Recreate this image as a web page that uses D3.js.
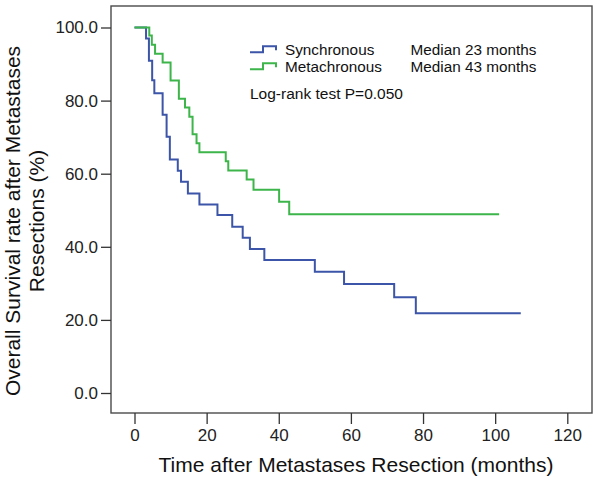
<!DOCTYPE html>
<html><head><meta charset="utf-8">
<script src="https://cdn.jsdelivr.net/npm/d3@7"></script>
<style>
body{margin:0;background:#fff;}
svg{display:block;font-family:"Liberation Sans",Arial,sans-serif;}
</style></head>
<body>
<svg id="chart" width="600" height="483"></svg>
<script>
// ---- Data ----
const seriesNames = ["Synchronous", "Metachronous"];
const medianLabels = ["Median 23 months", "Median 43 months"];
const syncTimes = [0, 3.2, 4.0, 4.9, 5.5, 7.8, 8.9, 9.8, 12.0, 12.9, 14.8, 18.0, 23.0, 27.1, 30.0, 32.0, 36.0, 50.0, 58.1, 72.0, 78.0, 107.1];
const syncSurv  = [100, 97.0, 90.9, 85.6, 82.0, 76.1, 70.1, 63.9, 60.8, 57.8, 54.6, 51.6, 48.7, 45.5, 42.5, 39.4, 36.4, 33.2, 29.8, 26.2, 21.8, 21.8];
const metaTimes = [0, 4.1, 4.8, 5.7, 7.8, 10.0, 12.3, 14.0, 15.2, 16.1, 17.2, 18.0, 25.3, 26.0, 31.1, 33.0, 40.1, 42.9, 101.1];
const metaSurv  = [100, 97.8, 95.3, 92.8, 90.4, 85.5, 80.5, 78.1, 75.6, 70.8, 68.3, 65.9, 63.4, 60.9, 58.4, 55.6, 52.3, 48.9, 48.9];
const xTicks = [0, 20, 40, 60, 80, 100, 120];
const yTicks = [0, 20, 40, 60, 80, 100];
const colors = ["#3c55a8", "#3db54a"];
const logRankText = "Log-rank test P=0.050";
const xTitle = "Time after Metastases Resection (months)";
const yTitleLines = ["Overall Survival rate after Metastases", "Resections (%)"];

// ---- Layout ----
const svg = d3.select("#chart");
const box = {left: 111, right: 592, top: 6, bottom: 413};
const x = d3.scaleLinear().domain([0, 120]).range([134.5, 567.3]);
const y = d3.scaleLinear().domain([0, 100]).range([393, 27.5]);

// Box
svg.append("rect")
  .attr("x", box.left).attr("y", box.top)
  .attr("width", box.right - box.left).attr("height", box.bottom - box.top)
  .attr("fill", "none").attr("stroke", "#4a4a4a").attr("stroke-width", 1.4);

// Y axis
const yAxis = svg.append("g").attr("transform", `translate(${box.left},0)`)
  .call(d3.axisLeft(y).tickValues(yTicks).tickFormat(d3.format(".1f")).tickSize(10).tickPadding(3));
yAxis.select(".domain").remove();
yAxis.selectAll("line").attr("stroke", "#333").attr("stroke-width", 1.3);
yAxis.selectAll("text").attr("font-size", 17).attr("fill", "#222")
  .attr("font-family", "Liberation Sans, Arial, sans-serif");

// X axis
const xAxis = svg.append("g").attr("transform", `translate(0,${box.bottom})`)
  .call(d3.axisBottom(x).tickValues(xTicks).tickFormat(d3.format("d")).tickSize(11).tickPadding(5));
xAxis.select(".domain").remove();
xAxis.selectAll("line").attr("stroke", "#333").attr("stroke-width", 1.3);
xAxis.selectAll("text").attr("font-size", 17).attr("fill", "#222")
  .attr("font-family", "Liberation Sans, Arial, sans-serif");

// Titles
svg.append("text").attr("x", 356).attr("y", 472).attr("text-anchor", "middle")
  .attr("font-size", 21).attr("fill", "#111").text(xTitle);
const yt = svg.append("text").attr("transform", "translate(20,221) rotate(-90)")
  .attr("text-anchor", "middle").attr("font-size", 21).attr("fill", "#111");
yTitleLines.forEach((t, i) => {
  yt.append("tspan").attr("x", 0).attr("dy", i === 0 ? 0 : 24).text(t);
});

// Curves
const line = d3.line().x(d => x(d[0])).y(d => y(d[1])).curve(d3.curveStepAfter);
const curves = [
  d3.zip(syncTimes, syncSurv),
  d3.zip(metaTimes, metaSurv)
];
curves.forEach((pts, i) => {
  svg.append("path").datum(pts).attr("d", line)
    .attr("fill", "none").attr("stroke", colors[i]).attr("stroke-width", 2);
});

// Legend
const legY = [52.3, 69.3];
seriesNames.forEach((name, i) => {
  const yy = legY[i];
  svg.append("path")
    .attr("d", `M250,${yy} H263 V${yy - 6} H276 V${yy - 2}`)
    .attr("fill", "none").attr("stroke", colors[i]).attr("stroke-width", 2);
  svg.append("text").attr("x", 285).attr("y", yy + 3).attr("font-size", 15.3).attr("fill", "#111").text(name);
  svg.append("text").attr("x", 410.5).attr("y", yy + 3).attr("font-size", 15.3).attr("fill", "#111").text(medianLabels[i]);
});
svg.append("text").attr("x", 250).attr("y", 98.5).attr("font-size", 15.5).attr("fill", "#111").text(logRankText);
</script>
</body></html>
